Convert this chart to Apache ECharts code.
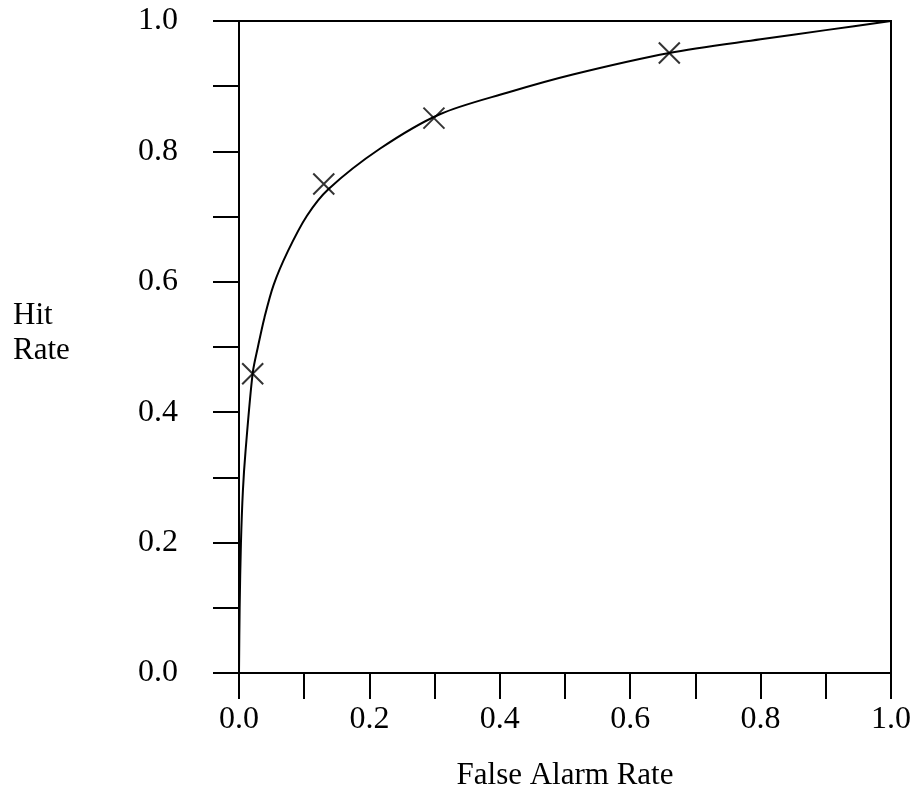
<!DOCTYPE html>
<html>
<head>
<meta charset="utf-8">
<script src="https://cdn.jsdelivr.net/npm/echarts@6/dist/echarts.min.js"></script>
<style>
  html, body { margin: 0; padding: 0; background: #fff; }
  #chart { width: 922px; height: 792px; }
</style>
</head>
<body>
<div id="chart"></div>
<script>
// ROC curve: false alarm rate vs hit rate
var curveFA  = [0, 0.001, 0.003, 0.006, 0.010, 0.021, 0.029, 0.039, 0.053, 0.075, 0.104, 0.137, 0.216, 0.308, 0.411, 0.512, 0.660, 0.800, 0.900, 1.0];
var curveHit = [0, 0.10, 0.20, 0.28, 0.34, 0.46, 0.50, 0.545, 0.595, 0.647, 0.701, 0.742, 0.804, 0.857, 0.890, 0.918, 0.951, 0.972, 0.986, 1.0];

// observed points (crosses)
var obsFA  = [0.021, 0.130, 0.299, 0.660];
var obsHit = [0.459, 0.750, 0.851, 0.951];

var tickLabels = ['0.0', '0.2', '0.4', '0.6', '0.8', '1.0'];

function pairs(xs, ys) {
    var out = [];
    for (var i = 0; i < xs.length; i++) out.push([xs[i], ys[i]]);
    return out;
}

function labelFor(v) {
    var k = Math.round(v * 10);
    return k % 2 === 0 ? tickLabels[k / 2] : '';
}

var font = 'Liberation Serif';
var chart = echarts.init(document.getElementById('chart'));

var axisCommon = {
    type: 'value',
    min: 0,
    max: 1,
    interval: 0.1,
    axisLine: { show: true, lineStyle: { color: '#000', width: 2 } },
    axisTick: { show: true, inside: false, length: 26, lineStyle: { color: '#000', width: 2 } },
    axisLabel: { formatter: labelFor, color: '#000', fontFamily: font, fontSize: 32, showMinLabel: true, showMaxLabel: true },
    splitLine: { show: false }
};

chart.setOption({
    animation: false,
    backgroundColor: '#fff',
    grid: {
        left: 239, right: 31, top: 21, bottom: 119,
        containLabel: false,
        outerBoundsMode: 'none',
        show: true, borderColor: '#000', borderWidth: 2
    },
    xAxis: Object.assign({}, axisCommon, {
        axisLabel: Object.assign({}, axisCommon.axisLabel, { margin: 31 }),
        name: 'False Alarm Rate',
        nameLocation: 'middle',
        nameGap: 87,
        nameTextStyle: { color: '#000', fontFamily: font, fontSize: 31 }
    }),
    yAxis: Object.assign({}, axisCommon, {
        axisLabel: Object.assign({}, axisCommon.axisLabel, { margin: 61 })
    }),
    graphic: [{
        type: 'text',
        left: 13,
        top: 298,
        style: {
            text: 'Hit\nRate',
            fill: '#000',
            font: '31px "Liberation Serif"',
            lineHeight: 35
        }
    }],
    series: [
        {
            type: 'line',
            data: pairs(curveFA, curveHit),
            smooth: 0.3,
            showSymbol: false,
            lineStyle: { color: '#000', width: 2 },
            z: 3
        },
        {
            type: 'scatter',
            data: pairs(obsFA, obsHit),
            symbol: 'path://M0,0L10,10M10,0L0,10',
            symbolSize: 21,
            itemStyle: { color: 'none', borderColor: '#000', borderWidth: 2 },
            z: 4
        }
    ]
});
</script>
</body>
</html>
